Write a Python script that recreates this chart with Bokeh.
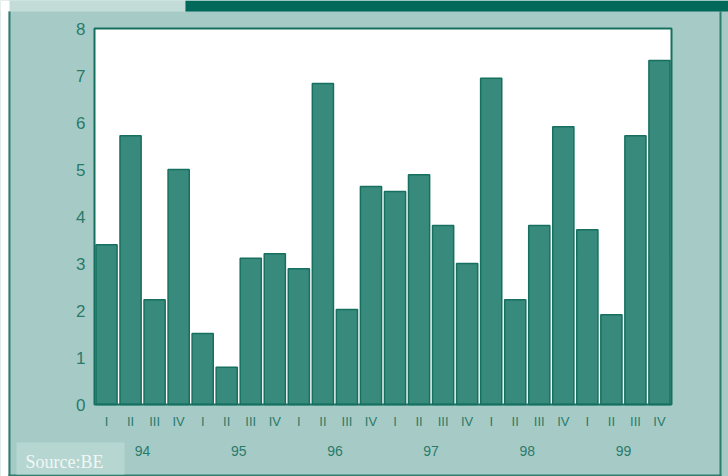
from bokeh.plotting import figure
from bokeh.models import ColumnDataSource, BoxAnnotation, Label, Range1d
from bokeh.core.properties import value
from bokeh.embed import file_html
from bokeh.resources import INLINE

quarters = ["I", "II", "III", "IV"] * 6
years = ["94", "95", "96", "97", "98", "99"]
values = [3.4, 5.72, 2.23, 5.0, 1.51, 0.79, 3.11, 3.21, 2.89, 6.83, 2.02, 4.64,
          4.53, 4.89, 3.81, 3.0, 6.94, 2.23, 3.81, 5.91, 3.72, 1.91, 5.72, 7.32]
y_ticks = [0, 1, 2, 3, 4, 5, 6, 7, 8]

PANEL = "#a6cbc6"
DARK = "#15705f"
TEXT = "#2a7a6a"
W, H = 728, 476

# plot-area geometry (pixels from top-left) used to set the ranges
PL, PR, PT, PB = 94, 671, 28, 404
n = len(values)
ymax = y_ticks[-1]
xpx = (PR - PL) / n
ypx = (PB - PT) / ymax
x_range = Range1d(-0.5 - PL / xpx, n - 0.5 + (W - PR) / xpx)
y_range = Range1d(-(H - PB) / ypx, ymax + PT / ypx)

p = figure(width=W, height=H, output_backend="svg", toolbar_location=None,
           x_range=x_range, y_range=y_range,
           min_border=0, x_axis_location=None, y_axis_location=None)
p.background_fill_color = PANEL
p.border_fill_color = PANEL
p.outline_line_color = None
p.grid.visible = False


def sbox(l, t, r, b, color, level="underlay"):
    """box in pixels from the canvas top-left"""
    p.add_layout(BoxAnnotation(left=l, right=r, top=H - t, bottom=H - b,
                               left_units="screen", right_units="screen",
                               top_units="screen", bottom_units="screen",
                               fill_color=color, fill_alpha=1, line_color=None, level=level))


sbox(0, 0, 8, H, "white")
sbox(8, 0, 185, 11, "#c3dcd8")
sbox(0, 0, 9, 11, "white")
sbox(185, 0, W, 11, "#00695a")
sbox(8, 11, 10, H, "#2f7d6d")
sbox(8, 474, 721, H, "#2f7d6d")
sbox(719, 11, 721, H, "#2f7d6d")
sbox(16, 442, 124, 474, "#b6d6d1")

# white plot area
p.add_layout(BoxAnnotation(left=-0.5, right=n - 0.5, bottom=0, top=ymax,
                           fill_color="white", fill_alpha=1, line_color=None, level="underlay"))

src = ColumnDataSource(dict(x=list(range(n)), top=values))
p.vbar(x="x", top="top", width=0.88, bottom=0, source=src,
       fill_color="#388a7c", line_color="#17705f", line_width=1.5)

# frame outline
p.add_layout(BoxAnnotation(left=-0.5, right=n - 0.5, bottom=0, top=ymax,
                           fill_alpha=0, line_color=DARK, line_alpha=1, line_width=2, level="annotation"))

# y tick labels
p.text(x=[-0.5] * len(y_ticks), y=y_ticks, text=[str(t) for t in y_ticks],
       x_offset=-9, text_align="right", text_baseline="middle",
       text_color=TEXT, text_font=value("Liberation Sans"), text_font_size="17px")

# quarter labels
p.text(x=list(range(n)), y=[0] * n, text=quarters, y_offset=17,
       text_align="center", text_baseline="middle",
       text_color=TEXT, text_font=value("Liberation Sans"), text_font_size="13px")

# year labels
year_pos = [1.5 + 4 * k for k in range(len(years))]
p.text(x=year_pos, y=[0] * len(years), text=years, y_offset=46,
       text_align="center", text_baseline="middle",
       text_color=TEXT, text_font=value("Liberation Sans"), text_font_size="14px")

p.add_layout(Label(x=25, y=H - 461, x_units="screen", y_units="screen", text="Source:BE",
                   text_color="#f2f7f6", text_font="Liberation Serif", text_font_size="18px",
                   text_baseline="middle"))

open("out.html", "w").write(file_html(p, INLINE))
